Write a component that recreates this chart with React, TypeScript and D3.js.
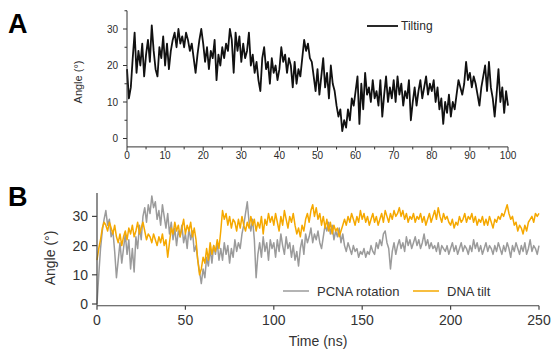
import React from "react";
import * as d3 from "d3";

// Panel A: tilting angle, sampled every 0.5 ns from 0 to 100 ns
const tiltStep = 0.5;
const tiltingA: number[] = [
  19, 11, 14, 22, 29, 18, 24, 20, 26, 17,
  23, 27, 21, 31, 24, 19, 17, 25, 22, 28,
  20, 26, 19, 24, 27, 29, 25, 30, 26, 28,
  25, 29, 27, 24, 26, 22, 18, 23, 27, 30,
  26, 21, 25, 19, 24, 22, 27, 16, 23, 20,
  25, 22, 26, 24, 30, 27, 18, 29, 24, 28,
  21, 26, 22, 24, 29, 20, 23, 18, 21, 16,
  13, 22, 25, 19, 21, 15, 22, 18, 20, 16,
  19, 25, 21, 23, 18, 22, 20, 14, 21, 15,
  19, 17, 22, 27, 24, 26, 22, 21, 17, 13,
  19, 12, 17, 22, 14, 18, 11, 20, 15, 13,
  9, 6, 8, 2, 5, 3, 8, 5, 11, 9,
  13, 17, 4, 15, 8, 18, 12, 14, 10, 16,
  11, 13, 9, 16, 6, 12, 17, 10, 14, 11,
  16, 10, 17, 12, 15, 9, 13, 11, 16, 5,
  10, 14, 9, 13, 16, 11, 14, 17, 12, 15,
  13, 16, 10, 14, 8, 11, 4, 10, 7, 12,
  6, 10, 8, 12, 16, 14, 12, 15, 21, 16,
  18, 14, 17, 15, 12, 9, 14, 17, 20, 13,
  21, 14, 11, 6, 12, 19, 10, 14, 7, 13,
  9,
];

// Panel B: sampled every 1 ns from 0 to 250 ns
const pcnaRotation: number[] = [
  0, 10, 19, 25, 29, 32, 27, 29, 23, 25,
  18, 9, 15, 21, 14, 19, 24, 17, 22, 12,
  19, 11, 23, 19, 27, 22, 30, 33, 28, 34,
  31, 37, 33, 35, 29, 32, 27, 34, 30, 26,
  31, 24, 28, 22, 26, 20, 25, 23, 27, 21,
  24, 19, 26, 22, 25, 18, 20, 15, 11, 7,
  12, 9, 16, 13, 19, 14, 20, 17, 21, 15,
  19, 15, 21, 17, 20, 14, 19, 16, 22, 18,
  21, 19, 24, 27, 31, 35, 28, 25, 29, 22,
  9, 17, 21, 16, 23, 18, 21, 15, 22, 19,
  21, 16, 22, 18, 24, 20, 17, 23, 19, 21,
  16, 20, 15, 18, 13, 19, 22, 17, 24, 21,
  23, 26, 21, 24, 22, 25, 21, 19, 23, 27,
  25, 28, 24, 27, 22, 25, 23, 26, 21, 24,
  20, 18, 21, 19, 17, 20, 18, 19, 16, 18,
  17, 19, 16, 18, 17, 20, 18, 17, 21, 19,
  22, 20, 24, 25, 21, 19, 12, 18, 21, 17,
  20, 22, 19, 21, 18, 23, 20, 22, 19, 21,
  23, 20, 22, 19, 21, 24, 20, 22, 19, 21,
  19, 20, 18, 21, 17, 20, 19, 18, 20, 17,
  19, 21, 18, 20, 17, 19, 21, 18, 20, 19,
  17, 20, 18, 22, 19, 21, 18, 20, 17, 19,
  21, 18, 20, 19, 17, 20, 18, 21, 19, 17,
  20, 18, 21, 19, 16, 20, 18, 21, 19, 17,
  20, 18, 21, 17, 19, 22, 18, 20, 19, 17,
  20,
];

const dnaTilt: number[] = [
  15, 19, 22, 26, 28, 27, 25, 28, 26, 24,
  27, 23, 21, 24, 20, 23, 25, 22, 26, 24,
  27, 23, 25, 28, 24, 26, 28, 25, 22, 24,
  23, 21, 24, 22, 20, 23, 21, 24, 20, 22,
  16, 21, 26, 24, 28, 25, 27, 23, 26, 29,
  24, 27, 25, 28, 23, 26, 22, 15, 10, 12,
  16, 14, 19, 15, 21, 17, 20, 18, 22, 19,
  25, 32, 29, 31, 27, 30, 26, 29, 28, 25,
  29, 26, 30, 27, 25, 28, 26, 30, 27, 29,
  25, 28, 26, 30, 24, 29, 27, 31, 28, 30,
  27, 31, 28, 25, 30, 27, 32, 29, 26, 30,
  28, 31, 27, 24, 26, 23, 27, 25, 29, 31,
  28, 32, 34, 30, 33, 29, 31, 27, 30, 26,
  29, 25, 28, 24, 27, 25, 26, 23, 25, 27,
  29, 27, 30, 28, 31, 29, 27, 30, 28, 32,
  29, 31, 28, 30, 27, 29, 31, 28, 30, 27,
  29, 31, 28, 32, 30, 28, 31, 29, 32, 30,
  31, 33, 30, 32, 29, 31, 28, 30, 29, 31,
  28, 30, 29, 31, 28, 30, 27, 29, 31, 28,
  30, 32, 29, 33, 30, 28, 31, 29, 30, 28,
  27, 29, 26, 28, 27, 30, 28, 29, 31, 28,
  30, 29, 31, 28, 30, 27, 29, 28, 30, 27,
  29, 27, 30, 28, 26, 29, 28, 30, 29, 31,
  30, 32, 34, 31, 29, 30, 27, 28, 25, 27,
  26, 24, 27, 25, 28, 29, 30, 28, 31, 30,
  31,
];

const ticksAx = [0, 10, 20, 30, 40, 50, 60, 70, 80, 90, 100];
const minorAx = [5, 15, 25, 35, 45, 55, 65, 75, 85, 95];
const ticksAy = [0, 10, 20, 30];
const minorAy = [5, 15, 25, 35];
const ticksBx = [0, 50, 100, 150, 200, 250];
const ticksBy = [0, 10, 20, 30];

const legendB = [
  { label: "PCNA rotation", color: "#9b9b9b" },
  { label: "DNA tilt", color: "#f5a800" },
];

export default function App() {
  // Panel A scales
  const xA = d3.scaleLinear().domain([0, 100]).range([127, 508]);
  const yA = d3.scaleLinear().domain([0, 30]).range([138.5, 29]);
  const axA = yA(-2.3);
  const topA = yA(35);
  const lineA = d3
    .line<number>()
    .x((_, i) => xA(i * tiltStep))
    .y((d) => yA(d));

  // Panel B scales
  const xB = d3.scaleLinear().domain([0, 250]).range([97, 539]);
  const yB = d3.scaleLinear().domain([0, 30]).range([304, 216.4]);
  const axB = yB(-0.6);
  const topB = yB(38);
  const lineB = d3
    .line<number>()
    .x((_, i) => xB(i))
    .y((d) => yB(d));

  const fontA = "Arial, 'Liberation Sans', Helvetica, sans-serif";
  const axColA = "#333";
  const txtA = "#2a2a2a";
  const axColB = "#444";
  const txtB = "#333";

  const legendXs = [283, 413];

  return (
    <svg
      width={552}
      height={351}
      style={{ position: "absolute", left: 0, top: 0, background: "#fff" }}
      fontFamily={fontA}
    >
      {/* Panel letters */}
      <text x={8} y={33} fontSize={27} fontWeight="bold" fill="#000">A</text>
      <text x={8} y={206} fontSize={27} fontWeight="bold" fill="#000">B</text>

      {/* ===== Panel A ===== */}
      <path d={lineA(tiltingA) || ""} fill="none" stroke="#111" strokeWidth={1.8} strokeLinejoin="round" />
      <line x1={xA(0)} x2={xA(100)} y1={axA} y2={axA} stroke={axColA} strokeWidth={1} />
      <line x1={xA(0)} x2={xA(0)} y1={axA} y2={topA} stroke={axColA} strokeWidth={1} />
      {ticksAx.map((t) => (
        <g key={"ax" + t}>
          <line x1={xA(t)} x2={xA(t)} y1={axA} y2={axA + 4} stroke={axColA} />
          <text x={xA(t)} y={158.5} fontSize={10} textAnchor="middle" fill={txtA}>{t}</text>
        </g>
      ))}
      {minorAx.map((t) => (
        <line key={"amx" + t} x1={xA(t)} x2={xA(t)} y1={axA} y2={axA + 2.5} stroke={axColA} />
      ))}
      {ticksAy.map((t) => (
        <g key={"ay" + t}>
          <line x1={xA(0) - 4} x2={xA(0)} y1={yA(t)} y2={yA(t)} stroke={axColA} />
          <text x={118} y={yA(t) + 3.5} fontSize={10} textAnchor="end" fill={txtA}>{t}</text>
        </g>
      ))}
      {minorAy.map((t) => (
        <line key={"amy" + t} x1={xA(0) - 2.5} x2={xA(0)} y1={yA(t)} y2={yA(t)} stroke={axColA} />
      ))}
      <text
        transform={`translate(82,82) rotate(-90)`}
        fontSize={11}
        textAnchor="middle"
        fill={txtA}
      >
        Angle (°)
      </text>
      <line x1={367} x2={398} y1={26} y2={26} stroke="#111" strokeWidth={1.8} />
      <text x={401} y={30} fontSize={12} fill={txtA}>Tilting</text>

      {/* ===== Panel B ===== */}
      <path d={lineB(pcnaRotation) || ""} fill="none" stroke="#9b9b9b" strokeWidth={1.5} strokeLinejoin="round" />
      <path d={lineB(dnaTilt) || ""} fill="none" stroke="#f5a800" strokeWidth={1.5} strokeLinejoin="round" />
      <line x1={xB(0)} x2={xB(250)} y1={axB} y2={axB} stroke={axColB} strokeWidth={1.2} />
      <line x1={xB(0)} x2={xB(0)} y1={axB} y2={topB} stroke={axColB} strokeWidth={1.2} />
      {ticksBx.map((t) => (
        <g key={"bx" + t}>
          <line x1={xB(t)} x2={xB(t)} y1={axB} y2={axB + 4} stroke={axColB} strokeWidth={1.2} />
          <text x={xB(t)} y={325} fontSize={14} textAnchor="middle" fill={txtB}>{t}</text>
        </g>
      ))}
      {ticksBy.map((t) => (
        <g key={"by" + t}>
          <line x1={xB(0) - 5} x2={xB(0)} y1={yB(t)} y2={yB(t)} stroke={axColB} strokeWidth={1.2} />
          <text x={88} y={yB(t) + 5} fontSize={14} textAnchor="end" fill={txtB}>{t}</text>
        </g>
      ))}
      <text
        transform={`translate(55,258) rotate(-90)`}
        fontSize={14}
        textAnchor="middle"
        fill={txtB}
      >
        Angle (°)
      </text>
      <text x={xB(125)} y={346} fontSize={14} textAnchor="middle" fill={txtB}>Time (ns)</text>
      {legendB.map((l, i) => (
        <g key={l.label}>
          <line x1={legendXs[i]} x2={legendXs[i] + 26} y1={291} y2={291} stroke={l.color} strokeWidth={1.5} />
          <text x={legendXs[i] + 34} y={295.5} fontSize={13} fill={txtB}>{l.label}</text>
        </g>
      ))}
    </svg>
  );
}
